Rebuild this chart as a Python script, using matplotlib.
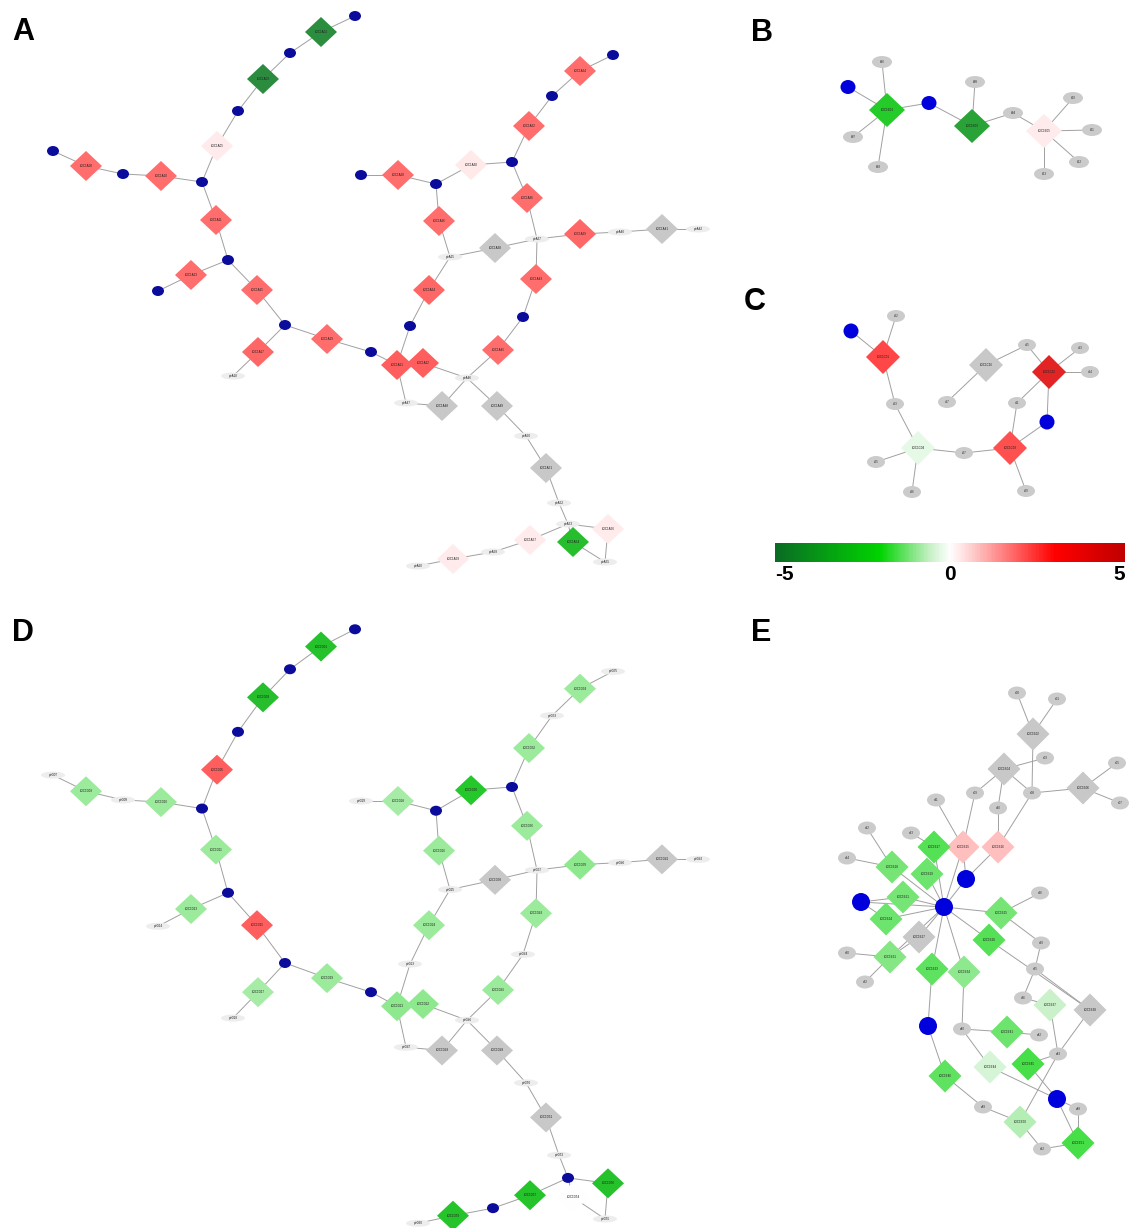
import numpy as np
import matplotlib.pyplot as plt
from matplotlib.patches import Polygon, Ellipse
from matplotlib.colors import LinearSegmentedColormap, Normalize
from matplotlib.cm import ScalarMappable

plt.rcParams['font.family'] = ['Liberation Sans', 'DejaVu Sans']

W, H = 1131, 1228
nan = np.nan

# ---- pathway network shared by panels A and D (node centres, A layout) ----
net_x = [355, 321, 290, 263, 238, 217, 202, 53, 86, 123,
         161, 216, 228, 191, 158, 257, 285, 258, 233, 327,
         371, 397, 423, 410, 429, 450, 439, 436, 398, 361,
         471, 512, 529, 552, 580, 613, 527, 537, 495, 580,
         620, 662, 698, 536, 523, 498, 467, 406, 442, 497,
         526, 546, 559, 568, 573, 605, 608, 530, 493, 453,
         418]
net_y = [16, 32, 53, 79, 111, 146, 182, 151, 166, 174,
         176, 220, 260, 275, 291, 290, 325, 352, 376, 339,
         352, 365, 363, 326, 290, 257, 221, 184, 175, 175,
         165, 162, 126, 96, 71, 55, 198, 239, 248, 234,
         232, 229, 229, 279, 317, 350, 378, 403, 406, 406,
         436, 468, 503, 524, 542, 562, 529, 540, 552, 559,
         566]
net_edges = [(0, 1), (1, 2), (2, 3), (3, 4), (4, 5), (5, 6),
             (7, 8), (8, 9), (9, 10), (10, 6),
             (6, 11), (11, 12), (12, 13), (13, 14), (12, 15), (15, 16),
             (16, 17), (17, 18), (16, 19), (19, 20), (20, 21), (23, 21),
             (21, 22), (21, 47), (22, 46),
             (23, 24), (24, 25), (25, 26), (26, 27), (27, 28), (28, 29),
             (27, 30), (30, 31), (31, 32), (32, 33), (33, 34), (34, 35),
             (31, 36), (36, 37),
             (25, 38), (38, 37), (37, 39), (39, 40), (40, 41), (41, 42),
             (37, 43), (43, 44), (44, 45), (45, 46),
             (46, 48), (48, 47), (46, 49), (49, 50), (50, 51), (51, 52),
             (52, 53), (53, 54), (54, 55), (55, 56), (56, 53),
             (53, 57), (57, 58), (58, 59), (59, 60)]
# d = enzyme, c = compound, t = gene label
a_kind = "cdcdcdccdc" "ddcdcdcdtd" "cddcdtdcdc" "dcdcdcdtdd" "tdtdcdttdd" "tdttdtddtd" "t"
d_kind = "cdcdcdctdt" "ddcdtdcdtd" "cddtdtdcdt" "dcdtdtdtdd" "tdtdtdttdd" "tdtcdtddcd" "t"
a_val = [nan, -4.5, nan, -4.6, nan, 0.3, nan, nan, 2.0, nan,
         2.0, 2.0, nan, 2.0, nan, 2.0, nan, 2.1, nan, 2.0,
         nan, 2.2, 2.2, nan, 2.1, nan, 2.0, nan, 2.0, nan,
         0.35, nan, 2.0, nan, 2.0, nan, 2.0, nan, nan, 2.1,
         nan, nan, nan, 2.0, nan, 2.0, nan, nan, nan, nan,
         nan, nan, nan, nan, -2.9, nan, 0.3, 0.3, nan, 0.3,
         nan]
d_val = [nan, -2.8, nan, -2.9, nan, 2.2, nan, nan, -1.0, nan,
         -1.0, -1.0, nan, -1.0, nan, 2.2, nan, -0.9, nan, -1.0,
         nan, -1.1, -1.1, nan, -1.0, nan, -1.0, nan, -0.9, nan,
         -2.6, nan, -1.0, nan, -1.0, nan, -1.0, nan, nan, -1.1,
         nan, nan, nan, -1.0, nan, -1.0, nan, nan, nan, nan,
         nan, nan, nan, nan, 0.0, nan, -2.8, -2.7, nan, -2.7,
         nan]

# ---- panel B ----
b_x = [848, 887, 929, 972, 1013, 1044, 882, 853, 878, 975, 1073, 1092, 1079, 1044]
b_y = [87, 110, 103, 126, 113, 131, 62, 137, 167, 82, 98, 130, 162, 174]
b_kind = "cdcdgdgggggggg"
b_val = [nan, -2.5, nan, -3.8, nan, 0.3, nan, nan, nan, nan, nan, nan, nan, nan]
b_edges = [(0, 1), (1, 2), (2, 3), (6, 1), (7, 1), (8, 1), (9, 3), (3, 4),
           (4, 5), (5, 10), (5, 11), (5, 12), (5, 13)]

# ---- panel C ----
c_x = [851, 883, 896, 895, 918, 876, 912, 964, 1010, 1026, 1047, 1017, 1049,
       1080, 1090, 1027, 986, 947]
c_y = [331, 357, 316, 404, 448, 462, 492, 453, 448, 491, 422, 403, 372,
       348, 372, 345, 365, 402]
c_kind = "cdggdgggdgcgdgggdg"
c_val = [nan, 2.5, nan, nan, -0.3, nan, nan, nan, 2.4, nan, nan, nan, 4.0,
         nan, nan, nan, nan, nan]
c_edges = [(0, 1), (2, 1), (1, 3), (3, 4), (5, 4), (6, 4), (4, 7), (7, 8),
           (9, 8), (10, 8), (8, 11), (11, 12), (12, 10), (13, 12), (14, 12),
           (15, 12), (16, 15), (17, 16)]

# ---- panel E ----
e_x = [1017, 1057, 1033, 1045, 1004, 1117, 1083, 1120, 1032, 975,
       998, 936, 867, 911, 847, 963, 998, 934, 892, 927,
       966, 903, 861, 944, 886, 1001, 1040, 919, 989, 1041,
       847, 890, 865, 932, 964, 1035, 1023, 1050, 1090, 928,
       962, 1007, 1039, 1058, 990, 1028, 945, 1057, 1078, 983,
       1020, 1078, 1042]
e_y = [693, 699, 734, 758, 769, 763, 788, 803, 793, 793,
       808, 800, 828, 833, 858, 847, 847, 847, 867, 874,
       879, 897, 902, 907, 919, 913, 893, 937, 940, 943,
       953, 957, 982, 969, 972, 969, 998, 1005, 1010, 1026,
       1029, 1032, 1035, 1054, 1067, 1064, 1076, 1099, 1109, 1107,
       1122, 1143, 1149]
e_kind = ("ggdgdgdggg" "gggggddddd" "cdccddgddg" "gdgddggddc"
          "gdggdddcgg" "ddg")
e_val = [nan, nan, nan, nan, nan, nan, nan, nan, nan, nan,
         nan, nan, nan, nan, nan, 0.9, 0.9, -1.6, -1.3, -1.4,
         nan, -1.3, nan, nan, -1.4, -1.3, nan, nan, -1.6, nan,
         nan, -1.2, nan, -1.5, -1.1, nan, nan, -0.6, nan, nan,
         nan, -1.4, nan, nan, -0.5, -1.7, -1.5, nan, nan, nan,
         -0.8, -1.7, nan]
e_edges = [(0, 2), (1, 2), (2, 8), (3, 4), (4, 9), (4, 10), (4, 8), (8, 6),
           (6, 5), (6, 7), (9, 15), (10, 16), (8, 16), (11, 15),
           (15, 20), (16, 20), (12, 18), (14, 18), (13, 17),
           (23, 17), (23, 18), (23, 19), (23, 20), (23, 21), (23, 22),
           (23, 24), (23, 25), (23, 27), (23, 28), (23, 33), (23, 34),
           (23, 31), (23, 15), (22, 21), (22, 24), (25, 26), (25, 29),
           (30, 31), (32, 31), (27, 31), (33, 39), (34, 40), (39, 46),
           (46, 49), (49, 50), (40, 41), (40, 44), (41, 42), (44, 47),
           (45, 47), (47, 48), (48, 51), (47, 51), (50, 52), (52, 51),
           (50, 43), (43, 38), (43, 45), (29, 35), (35, 36), (36, 37),
           (37, 43), (28, 38), (35, 38)]

cbar_ticks = [-5, 0, 5]

# fold-change colour scale
cmap = LinearSegmentedColormap.from_list("fc", [
    (0.0, "#0a6b24"), (0.3, "#00d400"), (0.44, "#c4efc4"), (0.5, "#ffffff"),
    (0.56, "#ffd0d0"), (0.8, "#ff0000"), (1.0, "#c00000")])
norm = Normalize(-5, 5)


def tint(c, k=0.86):
    return tuple(1 - k + k * ch for ch in c[:3])


fig = plt.figure(figsize=(W / 100, H / 100), dpi=100)
ax = fig.add_axes([0, 0, 1, 1])
ax.set_xlim(0, W)
ax.set_ylim(H, 0)
ax.axis("off")


def draw_net(xs, ys, kinds, vals, edges, tag, dia, comp, gray, blue):
    for i, j in edges:
        ax.plot([xs[i], xs[j]], [ys[i], ys[j]], color="#a0a0a0", lw=0.7,
                zorder=1, solid_capstyle="round")
    for n, (x, y, k, v) in enumerate(zip(xs, ys, kinds, vals)):
        lab = f"{tag}{n:02d}"
        if k == "d":
            w, h = dia
            col = "#c8c8c8" if np.isnan(v) else tint(cmap(norm(v)))
            ax.add_patch(Polygon([(x - w / 2, y), (x, y - h / 2), (x + w / 2, y),
                                  (x, y + h / 2)], closed=True, fc=col,
                                 ec="none", zorder=2))
            ax.text(x, y, "LOC1" + lab, fontsize=2.2, ha="center",
                    va="center", color="#202020", zorder=3)
        elif k == "c":
            ax.add_patch(Ellipse((x, y), comp[0], comp[1], fc=blue,
                                 ec="none", zorder=2))
        elif k == "g":
            ax.add_patch(Ellipse((x, y), gray[0], gray[1], fc="#cbcbcb",
                                 ec="none", zorder=2))
            ax.text(x, y, lab.lower(), fontsize=2.2, ha="center",
                    va="center", color="#303030", zorder=3)
        else:
            ax.add_patch(Ellipse((x, y), 24, 7, fc="#ededed", ec="none",
                                 zorder=2))
            ax.text(x, y, "ptr" + lab, fontsize=2.2, ha="center",
                    va="center", color="#202020", zorder=3)


draw_net(net_x, net_y, a_kind, a_val, net_edges, "A", (32, 30), (12, 10),
         None, "#0c0c9c")
d_y = [612 + 1.08 * y for y in net_y]
draw_net(net_x, d_y, d_kind, d_val, net_edges, "D", (32, 30), (12, 10),
         None, "#0c0c9c")
draw_net(b_x, b_y, b_kind, b_val, b_edges, "B", (36, 34), (15, 14),
         (20, 12), "#0000dd")
draw_net(c_x, c_y, c_kind, c_val, c_edges, "C", (34, 34), (15, 15),
         (18, 12), "#0000dd")
draw_net(e_x, e_y, e_kind, e_val, e_edges, "E", (33, 33), (18, 18),
         (18, 13), "#0000dd")

for letter, (x, y) in {"A": (12, 32), "B": (751, 33), "C": (744, 302),
                       "D": (12, 633), "E": (751, 633)}.items():
    ax.text(x, y, letter, fontsize=22, fontweight="bold", ha="left",
            va="center")

# colour bar
cax = fig.add_axes([775 / W, 1 - 562 / H, 350 / W, 19 / H])
cb = fig.colorbar(ScalarMappable(norm=norm, cmap=cmap), cax=cax,
                  orientation="horizontal", ticks=cbar_ticks)
cb.outline.set_visible(False)
cax.set_xticklabels([str(t) for t in cbar_ticks])
cax.tick_params(length=0, labelsize=15, pad=2)
tls = cax.get_xticklabels()
for t in tls:
    t.set_fontweight("bold")
tls[0].set_horizontalalignment("left")
tls[-1].set_horizontalalignment("right")

fig.savefig("out.png", dpi=100)
